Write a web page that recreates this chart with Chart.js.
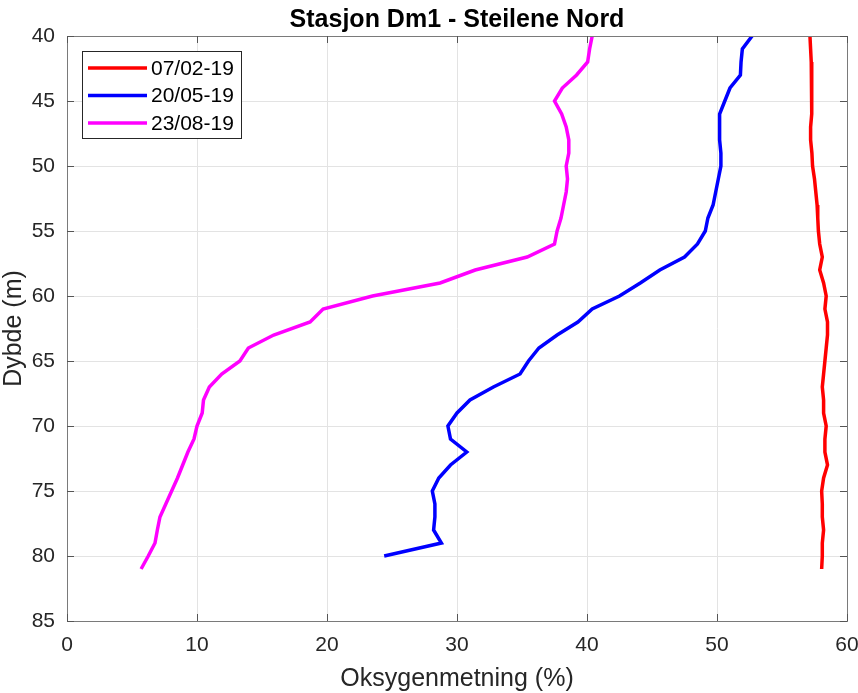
<!DOCTYPE html>
<html>
<head>
<meta charset="utf-8">
<script src="https://cdn.jsdelivr.net/npm/chart.js@4/dist/chart.umd.min.js"></script>
<style>
  html, body { margin: 0; padding: 0; background: #ffffff; }
  #wrap { width: 858px; height: 693px; }
</style>
</head>
<body>
<div id="wrap"><canvas id="c" width="858" height="693"></canvas></div>
<script>
// ---- Data ----
const chartTitle = "Stasjon Dm1 - Steilene Nord";
const xAxisLabel = "Oksygenmetning (%)";
const yAxisLabel = "Dybde (m)";
const seriesNames = ["07/02-19", "20/05-19", "23/08-19"];
const seriesColors = ["#ff0000", "#0000ff", "#ff00ff"];

const depthsFeb = [40,41,42,43,44,45,46,47,48,49,50,51,52,53,54,55,56,57,58,59,60,61,62,63,64,65,66,67,68,69,70,71,72,73,74,75,76,77,78,79,80,81];
const oxyFeb = [57.15,57.2,57.25,57.3,57.3,57.3,57.25,57.2,57.2,57.3,57.35,57.5,57.6,57.7,57.75,57.8,57.9,58.1,57.9,58.2,58.4,58.3,58.5,58.5,58.4,58.3,58.2,58.1,58.2,58.2,58.4,58.3,58.3,58.5,58.2,58.05,58.1,58.1,58.2,58.1,58.1,58.05];

const depthsMay = [40,41,42,43,44,45,46,47,48,49,50,51,52,53,54,55,56,57,58,59,60,61,62,63,64,65,66,67,68,69,70,71,72,73,74,75,76,77,78,79,80];
const oxyMay = [52.7,51.95,51.85,51.8,51.0,50.6,50.2,50.2,50.2,50.3,50.3,50.1,49.9,49.7,49.3,49.1,48.5,47.5,45.6,44.1,42.5,40.4,39.3,37.7,36.3,35.5,34.85,32.8,31.0,30.0,29.3,29.5,30.75,29.5,28.6,28.1,28.3,28.3,28.2,28.8,24.4];

const depthsAug = [40,41,42,43,44,45,46,47,48,49,50,51,52,53,54,55,56,57,58,59,60,61,62,63,64,65,66,67,68,69,70,71,72,73,74,75,76,77,78,79,80,81];
const oxyAug = [40.4,40.2,40.05,39.2,38.1,37.5,38.05,38.4,38.6,38.6,38.4,38.5,38.4,38.2,38.0,37.7,37.5,35.4,31.4,28.7,23.5,19.7,18.7,15.9,13.95,13.3,11.9,10.95,10.5,10.4,10.0,9.77,9.3,8.9,8.5,8.05,7.6,7.15,6.95,6.77,6.25,5.7];

const xTicks = [0,10,20,30,40,50,60];
const yTicks = [40,45,50,55,60,65,70,75,80,85];

// ---- Build datasets ----
function pts(xs, ys) { return xs.map((v, i) => ({ x: v, y: ys[i] })); }
const allDepths = [depthsFeb, depthsMay, depthsAug];
const allOxy = [oxyFeb, oxyMay, oxyAug];
const datasets = seriesNames.map((name, i) => ({
  label: name,
  data: pts(allOxy[i], allDepths[i]),
  borderColor: seriesColors[i],
  backgroundColor: seriesColors[i],
  borderWidth: 3.5,
  pointRadius: 0,
  showLine: true,
  tension: 0,
  fill: false
}));

const FONT = '"Liberation Sans", Arial, Helvetica, sans-serif';
const TXT = '#262626';

const decorPlugin = {
  id: 'decor',
  afterDraw(chart) {
    const ctx = chart.ctx;
    const a = chart.chartArea;
    const xs = chart.scales.x, ys = chart.scales.y;
    ctx.save();
    // Box
    ctx.strokeStyle = '#7a7a7a';
    ctx.lineWidth = 1;
    ctx.strokeRect(Math.round(a.left) + 0.5, Math.round(a.top) + 0.5, Math.round(a.right - a.left), Math.round(a.bottom - a.top));
    // Inward ticks
    ctx.strokeStyle = '#555555';
    ctx.beginPath();
    const tl = 7;
    xTicks.forEach(v => {
      const px = Math.round(xs.getPixelForValue(v)) + 0.5;
      ctx.moveTo(px, a.bottom); ctx.lineTo(px, a.bottom - tl);
      ctx.moveTo(px, a.top); ctx.lineTo(px, a.top + tl);
    });
    yTicks.forEach(v => {
      const py = Math.round(ys.getPixelForValue(v)) + 0.5;
      ctx.moveTo(a.left, py); ctx.lineTo(a.left + tl, py);
      ctx.moveTo(a.right, py); ctx.lineTo(a.right - tl, py);
    });
    ctx.stroke();
    // Title
    ctx.fillStyle = '#000000';
    ctx.font = 'bold 25px ' + FONT;
    ctx.textAlign = 'center';
    ctx.textBaseline = 'middle';
    ctx.fillText(chartTitle, (a.left + a.right) / 2, 20);
    // Legend
    const bx = 82.5, by = 51.5, bw = 159, bh = 87;
    ctx.fillStyle = '#ffffff';
    ctx.fillRect(bx, by, bw, bh);
    ctx.strokeStyle = '#262626';
    ctx.lineWidth = 1;
    ctx.strokeRect(bx, by, bw, bh);
    const rows = [68, 95.5, 123];
    ctx.font = '21px ' + FONT;
    ctx.textAlign = 'left';
    ctx.textBaseline = 'middle';
    chart.data.datasets.forEach((ds, i) => {
      ctx.strokeStyle = ds.borderColor;
      ctx.lineWidth = 3.5;
      ctx.beginPath();
      ctx.moveTo(88, rows[i]); ctx.lineTo(147, rows[i]);
      ctx.stroke();
      ctx.fillStyle = '#000000';
      ctx.fillText(ds.label, 151, rows[i] + 1);
    });
    ctx.restore();
  }
};

new Chart(document.getElementById('c'), {
  type: 'scatter',
  data: { datasets },
  plugins: [decorPlugin],
  options: {
    responsive: false,
    animation: false,
    layout: { padding: { top: 36, right: 11, left: 0, bottom: 0 } },
    plugins: { legend: { display: false }, title: { display: false }, tooltip: { enabled: false } },
    scales: {
      x: {
        type: 'linear', min: 0, max: 60,
        afterFit(s) { s.height = 72; s.paddingLeft = 0; s.paddingRight = 0; },
        afterBuildTicks(s) { s.ticks = xTicks.map(v => ({ value: v })); },
        ticks: { font: { family: FONT, size: 21 }, color: TXT, padding: 12 },
        grid: { color: '#e3e3e3', drawTicks: false, lineWidth: 1 },
        border: { display: false },
        title: { display: true, text: xAxisLabel, font: { family: FONT, size: 25, lineHeight: 1.1 }, color: TXT, padding: { top: 0, bottom: 0 } }
      },
      y: {
        type: 'linear', min: 40, max: 85, reverse: true,
        afterFit(s) { s.width = 67; s.paddingTop = 0; s.paddingBottom = 0; },
        afterBuildTicks(s) { s.ticks = yTicks.map(v => ({ value: v })); },
        ticks: { font: { family: FONT, size: 21 }, color: TXT, padding: 12 },
        grid: { color: '#e3e3e3', drawTicks: false, lineWidth: 1 },
        border: { display: false },
        title: { display: true, text: yAxisLabel, font: { family: FONT, size: 25, lineHeight: 1.1 }, color: TXT, padding: { top: 0, bottom: 0 } }
      }
    }
  }
});
</script>
</body>
</html>
